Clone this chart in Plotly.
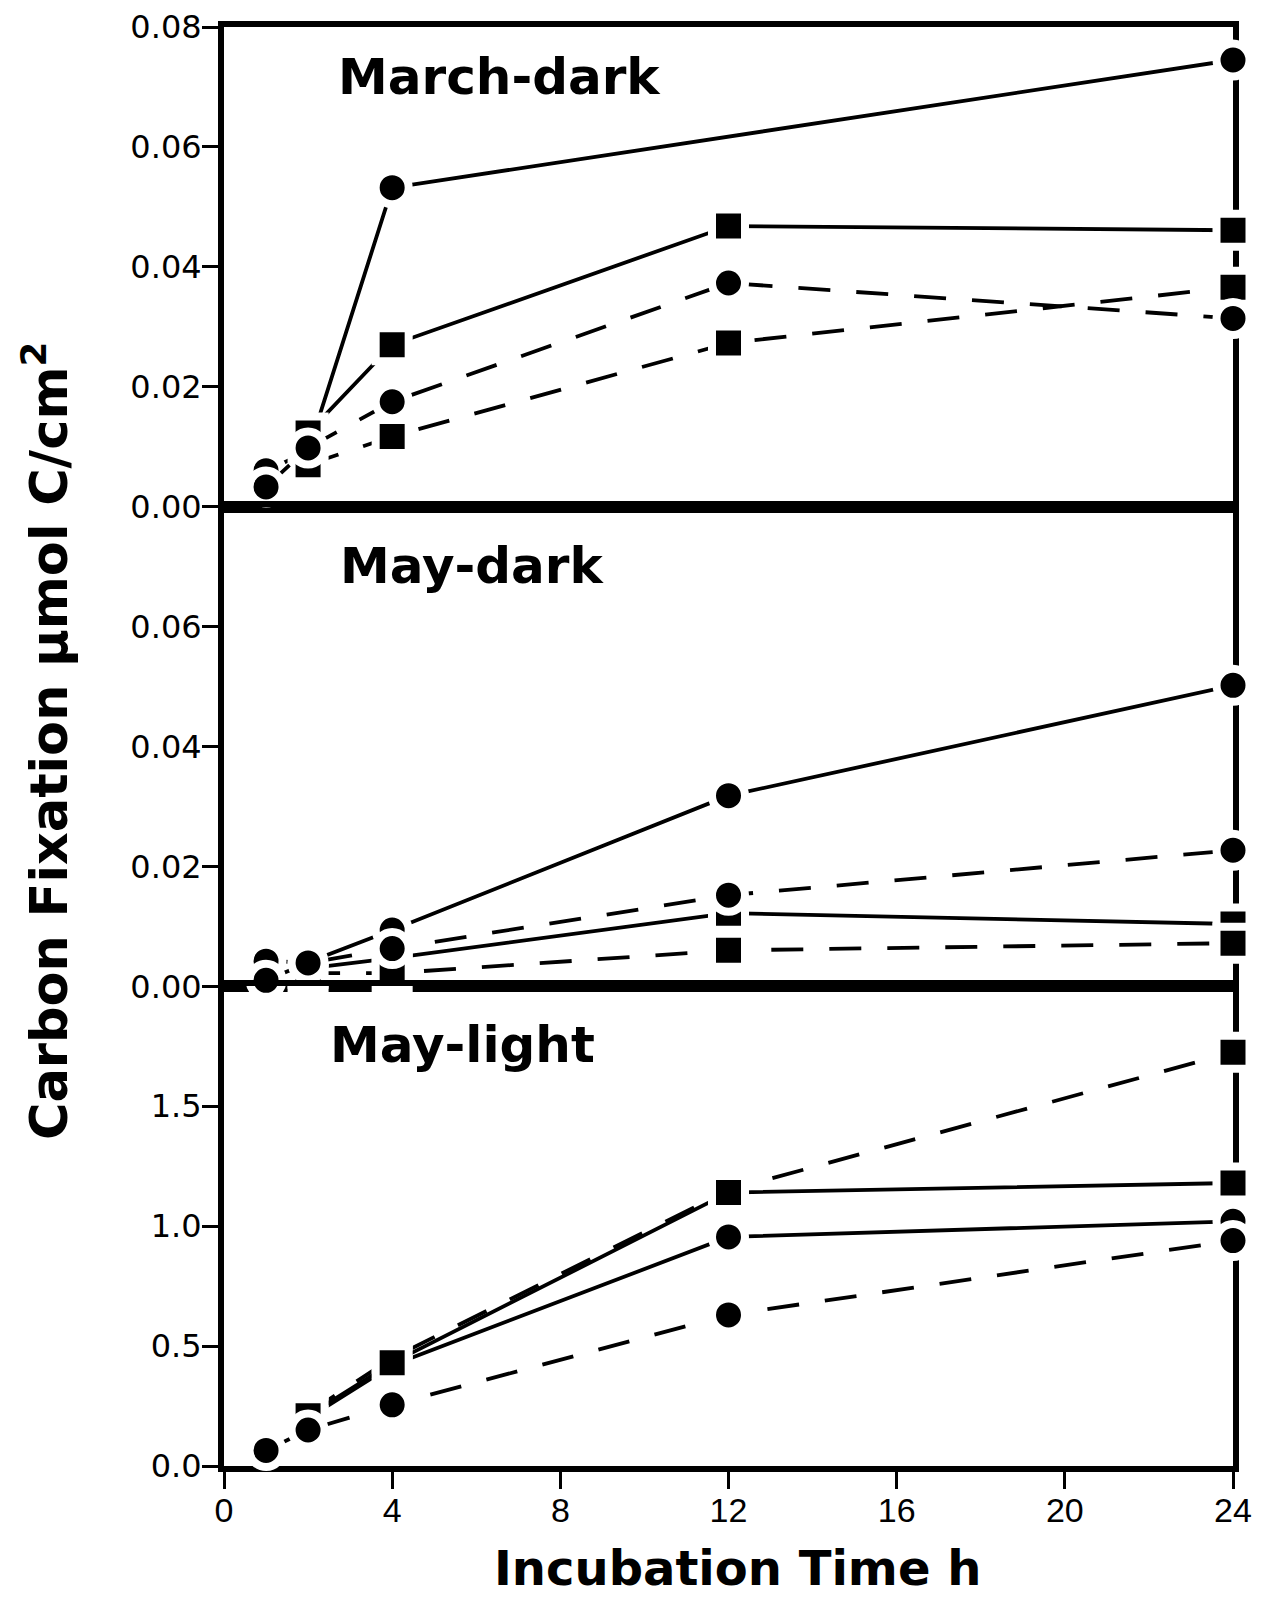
import plotly.graph_objects as go
from plotly.subplots import make_subplots

# ---------------- data ----------------
panel_names = ["March-dark", "May-dark", "May-light"]

# March-dark
march_sc_x = [1, 2, 4, 24]
march_sc_y = [0.0060, 0.0092, 0.0532, 0.0745]
march_ss_x = [2, 4, 12, 24]
march_ss_y = [0.0123, 0.0270, 0.0468, 0.0461]
march_dc_x = [1, 2, 4, 12, 24]
march_dc_y = [0.0033, 0.0098, 0.0175, 0.0373, 0.0314]
march_ds_x = [2, 4, 12, 24]
march_ds_y = [0.0070, 0.0117, 0.0273, 0.0366]

# May-dark
maydk_sc_x = [1, 2, 4, 12, 24]
maydk_sc_y = [0.0042, 0.0040, 0.0094, 0.0318, 0.0502]
maydk_ss_x = [2, 4, 12, 24]
maydk_ss_y = [0.0030, 0.0047, 0.0122, 0.0104]
maydk_dc_x = [1, 2, 4, 12, 24]
maydk_dc_y = [0.0010, 0.0039, 0.0063, 0.0152, 0.0227]
maydk_ds_x = [2, 4, 12, 24]
maydk_ds_y = [0.0022, 0.0022, 0.0060, 0.0072]

# May-light
maylt_sc_x = [2, 4, 12, 24]
maylt_sc_y = [0.20, 0.42, 0.955, 1.02]
maylt_ss_x = [2, 4, 12, 24]
maylt_ss_y = [0.21, 0.43, 1.14, 1.18]
maylt_ds_x = [2, 4, 12, 24]
maylt_ds_y = [0.22, 0.45, 1.15, 1.725]
maylt_dc_x = [1, 2, 4, 12, 24]
maylt_dc_y = [0.065, 0.15, 0.255, 0.63, 0.94]

x_ticks = [0, 4, 8, 12, 16, 20, 24]
y_ticks_top = [0.00, 0.02, 0.04, 0.06, 0.08]
y_ticks_mid = [0.00, 0.02, 0.04, 0.06]
y_ticks_bot = [0.0, 0.5, 1.0, 1.5]

# ---------------- layout geometry ----------------
OFF = 8  # default body margin of the html page
W, H = 1263 - 2 * OFF, 1598 - OFF
L, R, T, B = 224 - OFF, W - (1233 - OFF), 27 - OFF, H - (1466 - OFF)
FONT = "DejaVu Sans"

def px_x(p):
    return (p - OFF - L) / (W - L - R)

def px_y(p):
    return 1 - (p - OFF - T) / (H - T - B)

fig = make_subplots(rows=3, cols=1, shared_xaxes=True, vertical_spacing=0)

LW = 3.8
DASH = "32px,26px"

def add(row, xs, ys, symbol, dashed):
    fig.add_trace(
        go.Scatter(
            x=xs, y=ys, mode="lines+markers",
            line=dict(color="black", width=LW, dash=DASH if dashed else "solid"),
            marker=dict(symbol=symbol, size=33,
                        color="black", line=dict(color="white", width=8)),
            cliponaxis=False, showlegend=False,
        ),
        row=row, col=1,
    )

add(1, march_sc_x, march_sc_y, "circle", False)
add(1, march_ss_x, march_ss_y, "square", False)
add(1, march_ds_x, march_ds_y, "square", True)
add(1, march_dc_x, march_dc_y, "circle", True)

add(2, maydk_ss_x, maydk_ss_y, "square", False)
add(2, maydk_ds_x, maydk_ds_y, "square", True)
add(2, maydk_sc_x, maydk_sc_y, "circle", False)
add(2, maydk_dc_x, maydk_dc_y, "circle", True)

add(3, maylt_sc_x, maylt_sc_y, "circle", False)
add(3, maylt_ds_x, maylt_ds_y, "square", True)
add(3, maylt_ss_x, maylt_ss_y, "square", False)
add(3, maylt_dc_x, maylt_dc_y, "circle", True)

axis_common = dict(showline=True, linecolor="black", linewidth=6, mirror=True,
                   showgrid=False, zeroline=False, layer="below traces",
                   automargin=False, tickcolor="black", tickwidth=2.5)

for i in range(1, 4):
    fig.update_xaxes(range=[0, 24], tickvals=x_ticks, **axis_common,
                     tickfont=dict(family="Liberation Sans", size=34, color="black"),
                     row=i, col=1)
    if i < 3:
        fig.update_xaxes(ticks="", showticklabels=False, row=i, col=1)
    else:
        fig.update_xaxes(ticks="outside", ticklen=17, ticklabelstandoff=-8, row=i, col=1)

ytf = dict(family=FONT, size=32, color="black")
ycommon = dict(ticks="outside", ticklen=16, ticklabelstandoff=-6, tickfont=ytf)
fig.update_yaxes(range=[0, 0.08], tickvals=y_ticks_top, tickformat=".2f",
                 **ycommon, **axis_common, row=1, col=1)
fig.update_yaxes(range=[0, 0.08], tickvals=y_ticks_mid, tickformat=".2f",
                 **ycommon, **axis_common, row=2, col=1)
fig.update_yaxes(range=[0, 2.0], tickvals=y_ticks_bot, tickformat=".1f",
                 **ycommon, **axis_common, row=3, col=1)

ann = []
label_pos = [(336, 77), (338, 566), (328, 1045)]
for name, (lx, ly) in zip(panel_names, label_pos):
    ann.append(dict(text="<b>" + name + "</b>", x=px_x(lx), y=px_y(ly),
                    xref="paper", yref="paper",
                    xanchor="left", yanchor="middle", showarrow=False,
                    font=dict(family=FONT, size=50, color="black")))
ann.append(dict(text="<b>Carbon Fixation μmol C/cm<sup>2</sup></b>", x=px_x(46), y=px_y(741),
                xref="paper", yref="paper", textangle=-90, showarrow=False,
                xanchor="center", yanchor="middle",
                font=dict(family=FONT, size=51, color="black")))
ann.append(dict(text="<b>Incubation Time h</b>", x=px_x(737), y=px_y(1568),
                xref="paper", yref="paper", showarrow=False,
                xanchor="center", yanchor="middle",
                font=dict(family=FONT, size=48, color="black")))

fig.update_layout(width=W, height=H, margin=dict(l=L, r=R, t=T, b=B),
                  plot_bgcolor="white", paper_bgcolor="white",
                  annotations=ann, showlegend=False)

fig.write_html("out.html")
